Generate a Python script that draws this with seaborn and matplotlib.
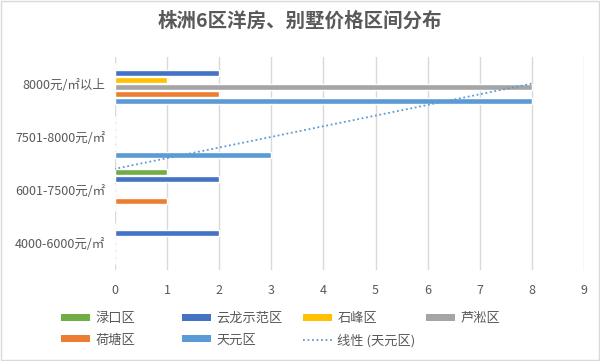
import numpy as np
import pandas as pd
import matplotlib
matplotlib.use('Agg')
import matplotlib.pyplot as plt
from matplotlib.patches import Patch, Rectangle
from matplotlib.lines import Line2D
import seaborn as sns

# price ranges, top to bottom as shown
categories = ['8000元/㎡以上', '7501-8000元/㎡', '6001-7500元/㎡', '4000-6000元/㎡']

# counts per district (same order as categories)
lukou = [0, 0, 1, 0]
yunlong = [2, 0, 2, 2]
shifeng = [1, 0, 0, 0]
lusong = [8, 0, 0, 0]
hetang = [2, 0, 1, 0]
tianyuan = [8, 3, 0, 0]

districts = ['渌口区', '云龙示范区', '石峰区', '芦淞区', '荷塘区', '天元区']
colors = ['#70AD47', '#4472C4', '#FFC000', '#A5A5A5', '#ED7D31', '#5B9BD5']

sns.set_style('white')
plt.rcParams['font.family'] = ['Noto Sans CJK SC', 'DejaVu Sans']

rows = []
for name, vals in zip(districts, [lukou, yunlong, shifeng, lusong, hetang, tianyuan]):
    for cat, v in zip(categories, vals):
        rows.append({'区间': cat, '区域': name, '数量': v})
df = pd.DataFrame(rows)

fig = plt.figure(figsize=(6.0, 3.61), dpi=100)
ax = fig.add_axes([115 / 600, 1 - 270 / 361, 469 / 600, 213 / 361])

sns.barplot(data=df, y='区间', x='数量', hue='区域', order=categories,
            hue_order=districts, palette=colors, orient='h', width=0.8,
            gap=0.15, ax=ax, legend=False, saturation=1)

# linear trendline for 天元区 (Excel style: category index 1..4 bottom to top,
# blank cells left out of the fit)
idx = np.arange(len(categories), 0, -1)
tv = np.array(tianyuan, dtype=float)
mask = tv > 0
k, b = np.polyfit(idx[mask], tv[mask], 1)
xs = np.array([idx.min(), idx.max()], dtype=float)
ax.plot(k * xs + b, len(categories) - xs, color='#5B9BD5', lw=1.3,
        ls=(0, (1, 1.5)), zorder=5)

ax.set_xlim(0, 9)
ax.set_ylim(len(categories) - 0.5, -0.5)
ax.set_xticks(range(10))
ax.grid(axis='x', color='#D9D9D9', lw=1)
ax.set_axisbelow(True)
for s in ax.spines.values():
    s.set_visible(False)
ax.tick_params(axis='both', length=0, labelsize=9, colors='#595959', pad=7)
ax.tick_params(axis='x', pad=10)
ax.set_xlabel('')
ax.set_ylabel('')

fig.text(0.5, 1 - 21 / 361, '株洲6区洋房、别墅价格区间分布', ha='center', va='center',
         fontsize=14, fontweight='bold', color='#595959')

# legend laid out row by row like Excel, one legend per column
handles = [Patch(facecolor=c, edgecolor='none') for c in colors]
trend = Line2D([0], [0], color='#5B9BD5', lw=1.3, ls=(0, (1, 1.5)))
columns = [
    ([handles[0], handles[4]], [districts[0], districts[4]]),
    ([handles[1], handles[5]], [districts[1], districts[5]]),
    ([handles[2], trend], [districts[2], '线性 (天元区)']),
    ([handles[3]], [districts[3]]),
]
col_x = [61, 182, 303, 426]
for (h, l), x in zip(columns, col_x):
    leg = fig.legend(h, l, loc='upper left', bbox_to_anchor=(x / 600, 1 - 312 / 361),
                     frameon=False, fontsize=9.5, handlelength=2.2, handleheight=0.45,
                     handletextpad=0.4, labelspacing=0.65, borderaxespad=0,
                     borderpad=0, labelcolor='#595959')

fig.patches.append(Rectangle((0.002, 0.003), 0.996, 0.994, transform=fig.transFigure,
                             fill=False, edgecolor='#D9D9D9', lw=1))

fig.savefig('out.png', dpi=100)
